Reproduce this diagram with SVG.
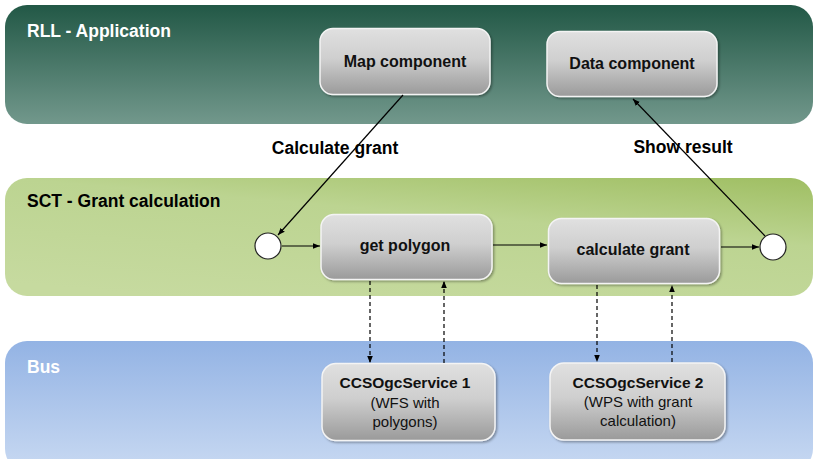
<svg xmlns="http://www.w3.org/2000/svg" width="814" height="459" viewBox="0 0 814 459">
<defs>
<linearGradient id="gTop" x1="0" y1="0" x2="0" y2="1"><stop offset="0" stop-color="#225846"/><stop offset="1" stop-color="#72988c"/></linearGradient>
<linearGradient id="gMid" x1="0.2" y1="1" x2="0.9" y2="-0.2"><stop offset="0" stop-color="#c6da9f"/><stop offset="0.55" stop-color="#bcd491"/><stop offset="1" stop-color="#98b957"/></linearGradient>
<linearGradient id="gBus" x1="0" y1="0" x2="0" y2="1"><stop offset="0" stop-color="#93b3e4"/><stop offset="1" stop-color="#c8d9f2"/></linearGradient>
<linearGradient id="gNode" x1="0" y1="0" x2="0" y2="1"><stop offset="0" stop-color="#e0e0e0"/><stop offset="0.45" stop-color="#cfcfcf"/><stop offset="1" stop-color="#9a9a9a"/></linearGradient>
<filter id="sh" x="-10%" y="-10%" width="130%" height="130%"><feDropShadow dx="1.5" dy="1.5" stdDeviation="1.2" flood-color="#000" flood-opacity="0.35"/></filter>
<marker id="ah" viewBox="0 0 10 10" refX="10" refY="5" markerWidth="7" markerHeight="7" orient="auto" markerUnits="userSpaceOnUse"><path d="M0,1 L10,5 L0,9 Z" fill="#000"/></marker>
</defs>
<style>
.node rect{fill:url(#gNode);stroke:#f4f4f4;stroke-width:1.5;filter:url(#sh)}
.t{font-family:"Liberation Sans",Arial,sans-serif;font-weight:bold;font-size:16px;fill:#111;text-anchor:middle}
.n{font-family:"Liberation Sans",Arial,sans-serif;font-size:15px;fill:#111;text-anchor:middle}
.band{font-family:"Liberation Sans",Arial,sans-serif;font-weight:bold;font-size:17.5px;fill:#fff}
.lbl{font-family:"Liberation Sans",Arial,sans-serif;font-weight:bold;font-size:17.5px;fill:#000;text-anchor:middle}
.c{stroke:#000;stroke-width:1.2;fill:none;marker-end:url(#ah)}
.d{stroke:#000;stroke-width:1.2;fill:none;stroke-dasharray:4,3;marker-end:url(#ah)}
.circ{fill:#fff;stroke:#222;stroke-width:1.2}
</style>
<rect width="814" height="459" fill="#fff"/>
<g id="lane-rll"><rect x="5" y="5" width="808" height="119" rx="22" fill="url(#gTop)"/><text class="band" x="27" y="37">RLL - Application</text></g>
<g id="lane-sct"><rect x="5" y="178" width="808" height="118" rx="22" fill="url(#gMid)"/><text class="band" x="27" y="207" style="fill:#000">SCT - Grant calculation</text></g>
<g id="lane-bus"><rect x="5" y="341" width="808" height="130" rx="22" fill="url(#gBus)"/><text class="band" x="27" y="373">Bus</text></g>

<g id="map-component" class="node"><rect x="320" y="28.5" width="170" height="66" rx="13"/><text class="t" x="405" y="67">Map component</text></g>
<g id="data-component" class="node"><rect x="547" y="31.5" width="170" height="65" rx="13"/><text class="t" x="632" y="69">Data component</text></g>
<g id="start" ><circle class="circ" cx="268" cy="246" r="13"/></g>
<g id="get-polygon" class="node"><rect x="321" y="214.5" width="171" height="65" rx="13"/><text class="t" x="405" y="251">get polygon</text></g>
<g id="calculate-grant" class="node"><rect x="548.5" y="218.5" width="171" height="65" rx="13"/><text class="t" x="633" y="255">calculate grant</text></g>
<g id="end"><circle class="circ" cx="773" cy="247" r="13"/></g>
<g id="ccs1" class="node"><rect x="322" y="363.5" width="173" height="77" rx="14"/><text class="t" x="405" y="388" style="font-size:15.5px">CCSOgcService 1</text><text class="n" x="405" y="408">(WFS with</text><text class="n" x="405" y="427">polygons)</text></g>
<g id="ccs2" class="node"><rect x="550" y="363" width="175" height="77" rx="14"/><text class="t" x="638" y="388" style="font-size:15.5px">CCSOgcService 2</text><text class="n" x="638" y="407">(WPS with  grant</text><text class="n" x="638" y="426">calculation)</text></g>

<g id="connectors">
<line class="c" x1="403" y1="95" x2="278" y2="235"/>
<line class="c" x1="765" y1="236" x2="633" y2="99"/>
<line class="c" x1="282" y1="246" x2="320" y2="246"/>
<line class="c" x1="493" y1="245" x2="547" y2="245"/>
<line class="c" x1="721" y1="247" x2="759" y2="247"/>
<line class="d" x1="370" y1="281" x2="370" y2="363"/>
<line class="d" x1="444" y1="363" x2="444" y2="281"/>
<line class="d" x1="597" y1="285" x2="597" y2="362"/>
<line class="d" x1="672" y1="362" x2="672" y2="285"/>
<text class="lbl" x="335" y="154">Calculate grant</text>
<text class="lbl" x="683" y="153">Show result</text>
</g>
</svg>
